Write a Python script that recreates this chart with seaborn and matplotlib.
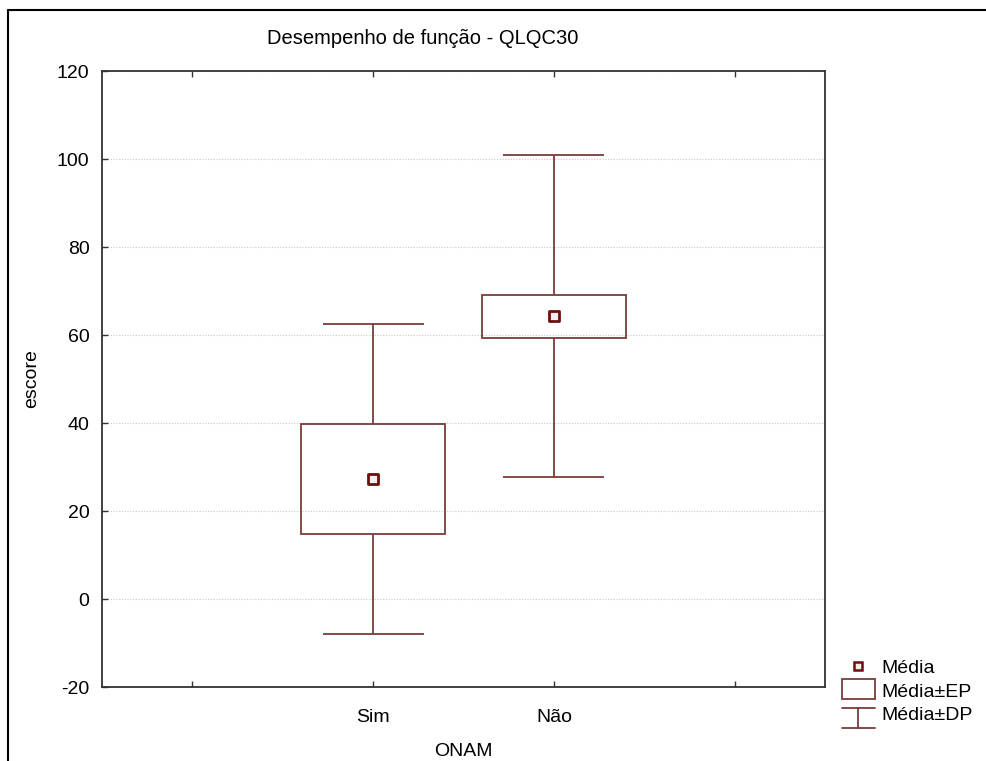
import numpy as np
import pandas as pd
import matplotlib
matplotlib.use("Agg")
import matplotlib.pyplot as plt
import seaborn as sns
from matplotlib.lines import Line2D
from matplotlib.patches import Rectangle
from matplotlib.legend_handler import HandlerBase

# values
groups = ["Sim", "Não"]
media = [27.3, 64.3]
ep = [12.5, 4.9]
dp = [35.3, 36.6]
y_ticks = [-20, 0, 20, 40, 60, 80, 100, 120]

cor = "#7a3b3b"
cor_marker = "#6b0f0f"

df = pd.DataFrame({"ONAM": groups, "media": media, "ep": ep, "dp": dp})
df["pos"] = [1, 2]

sns.set_style("white")
plt.rcParams["font.family"] = ["Liberation Sans", "DejaVu Sans"]
plt.rcParams["axes.unicode_minus"] = False
plt.rcParams["text.color"] = "black"
plt.rcParams["axes.labelcolor"] = "black"

fig = plt.figure(figsize=(9.86, 7.61), dpi=100)
ax = fig.add_axes([102 / 986, 1 - 687 / 761, 723 / 986, 616 / 761])

# box = media +- EP
ax.bar(df["pos"], 2 * df["ep"], bottom=df["media"] - df["ep"], width=0.8,
       fill=False, edgecolor=cor, linewidth=1.3, zorder=3)
# whiskers = media +- DP
ax.vlines(df["pos"], df["media"] + df["ep"], df["media"] + df["dp"], color=cor, lw=1.3, zorder=3)
ax.vlines(df["pos"], df["media"] - df["dp"], df["media"] - df["ep"], color=cor, lw=1.3, zorder=3)
ax.hlines(df["media"] + df["dp"], df["pos"] - 0.28, df["pos"] + 0.28, color=cor, lw=1.3, zorder=3)
ax.hlines(df["media"] - df["dp"], df["pos"] - 0.28, df["pos"] + 0.28, color=cor, lw=1.3, zorder=3)
# media
sns.scatterplot(data=df, x="pos", y="media", ax=ax, marker="s", s=45,
                facecolor="#f4eeee", edgecolor=cor_marker, linewidth=2.0, zorder=4, legend=False)

ax.set_xlim(-0.5, 3.5)
ax.set_ylim(-20, 120)
ax.set_xticks([0, 1, 2, 3])
ax.set_xticklabels(["", "Sim", "Não", ""])
ax.set_yticks(y_ticks)
ax.tick_params(axis="both", direction="in", length=4, width=1, color="#333333",
               labelsize=14, labelcolor="black", top=True, left=True, bottom=True)
ax.tick_params(axis="x", pad=16)
ax.tick_params(axis="y", pad=9)
ax.grid(axis="y", linestyle=(0, (1, 1.5)), color="#c8c8c8", linewidth=0.8, zorder=0)
for s in ax.spines.values():
    s.set_color("#333333")
    s.set_linewidth(1.3)
ax.set_xlabel("ONAM", fontsize=14, labelpad=12)
ax.set_ylabel("escore", fontsize=14, labelpad=12)

fig.text(423 / 986, 1 - 38 / 761, "Desempenho de função - QLQC30", ha="center", va="center", fontsize=14.5)

# outer frame lines
fig.add_artist(Line2D([8 / 986, 1], [1 - 10 / 761, 1 - 10 / 761], color="black", lw=1.5))
fig.add_artist(Line2D([8 / 986, 8 / 986], [0, 1 - 10 / 761], color="black", lw=1.5))


class HandlerWhisker(HandlerBase):
    def create_artists(self, legend, orig_handle, xdescent, ydescent, width, height, fontsize, trans):
        cx = width / 2 - xdescent
        top = height - 1
        bot = -6
        l1 = Line2D([0, width], [top, top], color=cor, lw=1.3, transform=trans)
        l2 = Line2D([cx, cx], [bot, top], color=cor, lw=1.3, transform=trans)
        l3 = Line2D([0, width], [bot, bot], color=cor, lw=1.3, transform=trans)
        return [l1, l2, l3]


class HandlerCaixa(HandlerBase):
    def create_artists(self, legend, orig_handle, xdescent, ydescent, width, height, fontsize, trans):
        r = Rectangle((0, -2), width, height + 5, fill=False, edgecolor=cor, lw=1.3, transform=trans)
        return [r]


h_media = Line2D([], [], marker="s", linestyle="none", markersize=6, markerfacecolor="#f4eeee",
                 markeredgecolor=cor_marker, markeredgewidth=1.8)
h_ep = Rectangle((0, 0), 1, 1)
h_dp = object()
leg = fig.legend([h_media, h_ep, h_dp], ["Média", "Média±EP", "Média±DP"],
                 handler_map={Rectangle: HandlerCaixa(), object: HandlerWhisker()},
                 loc="upper left", bbox_to_anchor=(828 / 986, 1 - 646 / 761),
                 frameon=False, fontsize=14, handlelength=1.7, handletextpad=0.35,
                 labelspacing=0.3, borderpad=0.2)

fig.savefig("out.png", dpi=100)
